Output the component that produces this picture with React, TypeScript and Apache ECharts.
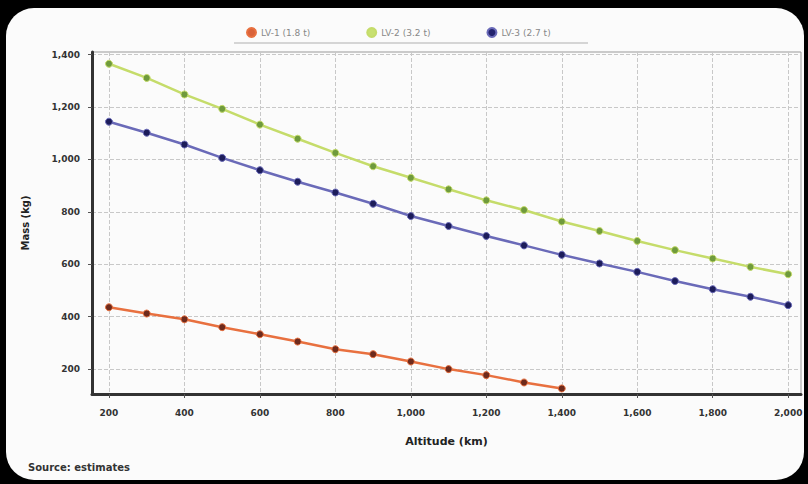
import React, { useEffect, useRef } from "react";
import * as echarts from "echarts";

const altitudes = [200, 300, 400, 500, 600, 700, 800, 900, 1000, 1100, 1200, 1300, 1400, 1500, 1600, 1700, 1800, 1900, 2000];
const seriesNames = ["LV-1 (1.8 t)", "LV-2 (3.2 t)", "LV-3 (2.7 t)"];
const redValues = [436, 412, 390, 360, 333, 305, 276, 257, 229, 200, 177, 149, 126];
const greenValues = [1365, 1311, 1248, 1193, 1133, 1079, 1025, 974, 930, 886, 844, 807, 763, 727, 689, 654, 622, 590, 562];
const blueValues = [1144, 1102, 1057, 1006, 959, 915, 874, 831, 784, 746, 708, 672, 636, 603, 571, 536, 505, 476, 444];
const xTicks = [200, 400, 600, 800, 1000, 1200, 1400, 1600, 1800, 2000];
const yTicks = [200, 400, 600, 800, 1000, 1200, 1400];
const xTitle = "Altitude (km)";
const yTitle = "Mass (kg)";
const sourceNote = "Source: estimates";

const fmt = (v: number) => v.toLocaleString("en-US");

export default function App() {
  const ref = useRef<HTMLDivElement>(null);
  useEffect(() => {
    if (!ref.current) return;
    const chart = echarts.init(ref.current, undefined, { renderer: "svg" });
    const pairs = (vals: number[]) => vals.map((v, i) => [altitudes[i], v]);
    const mk = (name: string, vals: number[], line: string, marker: string) => ({
      name,
      type: "line",
      data: pairs(vals),
      symbol: "circle",
      symbolSize: 7,
      lineStyle: { color: line, width: 2.5 },
      itemStyle: { color: marker, borderColor: line, borderWidth: 1 },
      emphasis: { disabled: true },
    });
    chart.setOption({
      animation: false,
      backgroundColor: "#000",
      textStyle: { fontFamily: "DejaVu Sans" },
      graphic: [
        { type: "rect", z: -10, shape: { x: 6, y: 8, width: 798, height: 472, r: 28 }, style: { fill: "#fbfbfb" } },
        { type: "line", shape: { x1: 234, y1: 43, x2: 588, y2: 43 }, style: { stroke: "#c8c8c8", lineWidth: 1.5 } },
        { type: "text", left: 28, top: 462, style: { text: sourceNote, fill: "#333", font: "bold 10px DejaVu Sans" } },
      ],
      legend: {
        top: 22,
        left: 241,
        itemGap: 56,
        itemWidth: 9,
        itemHeight: 9,
        icon: "circle",
        textStyle: { color: "#888", fontSize: 9 },
        data: seriesNames.map((n, i) => ({ name: n, itemStyle: { color: ["#d9623a", "#c8e070", "#23236e"][i] } })),
      },
      grid: { left: 92, right: 7, top: 52, bottom: 90, show: true, borderColor: "#999", borderWidth: 1 },
      xAxis: {
        type: "value",
        min: 155,
        max: 2034,
        name: xTitle,
        nameLocation: "middle",
        nameGap: 42,
        nameTextStyle: { color: "#222", fontSize: 11, fontWeight: "bold" },
        axisLine: { show: true, onZero: false, lineStyle: { color: "#333", width: 3 } },
        axisTick: { show: true, customValues: xTicks, length: 4, lineStyle: { color: "#555" } },
        axisLabel: { customValues: xTicks, formatter: (v: number) => fmt(v), color: "#333", fontSize: 9, fontWeight: "bold", margin: 14 },
        splitLine: { show: true, customValues: xTicks, lineStyle: { color: "#c8c8c8", type: "dashed", width: 1 } },
      },
      yAxis: {
        type: "value",
        min: 105,
        max: 1410,
        name: yTitle,
        nameLocation: "middle",
        nameGap: 62,
        nameTextStyle: { color: "#222", fontSize: 10, fontWeight: "bold" },
        axisLine: { show: true, onZero: false, lineStyle: { color: "#333", width: 3 } },
        axisTick: { show: true, customValues: yTicks, length: 4, lineStyle: { color: "#555" } },
        axisLabel: { customValues: yTicks, formatter: (v: number) => fmt(v), color: "#333", fontSize: 9, fontWeight: "bold", margin: 12 },
        splitLine: { show: true, customValues: yTicks, lineStyle: { color: "#c8c8c8", type: "dashed", width: 1 } },
      },
      series: [
        mk(seriesNames[0], redValues, "#e8703f", "#6e2a1c"),
        mk(seriesNames[1], greenValues, "#c5dc6a", "#6f9a3c"),
        mk(seriesNames[2], blueValues, "#6a6ab8", "#1c1c5a"),
      ],
    });
    return () => chart.dispose();
  }, []);
  return (
    <div style={{ position: "absolute", left: 0, top: 0, width: 808, height: 484, background: "#000" }}>
      <div ref={ref} style={{ width: 808, height: 484 }} />
    </div>
  );
}
